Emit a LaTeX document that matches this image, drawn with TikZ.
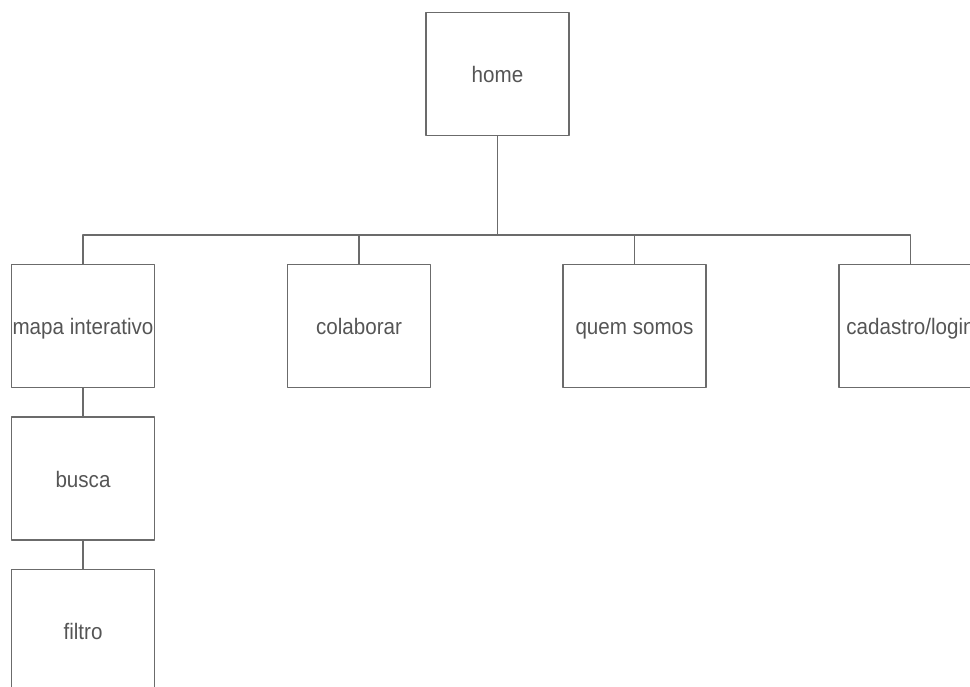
\documentclass[tikz,border=0pt]{standalone}
\usepackage{fontspec}
\setmainfont[FakeStretch=0.92]{Liberation Sans}
\definecolor{linegray}{HTML}{6B6B6B}
\definecolor{textgray}{HTML}{555555}
\tikzset{pagebox/.style={draw=linegray,line width=1.5pt,minimum width=143pt,minimum height=123pt,inner sep=0pt,text=textgray,text height=17pt,text depth=0pt,font=\fontsize{22.4}{24}\selectfont}}
\begin{document}
\begin{tikzpicture}[line cap=round,line join=round,x=1pt,y=-1pt]
				\useasboundingbox (0,0) rectangle (970,686);
				\clip (0,0) rectangle (970,686);
				\node[pagebox] (home) at (497.5,74) {home};
				\node[pagebox] (mapa) at (83,326) {mapa interativo};
				\node[pagebox] (colab) at (359,326) {colaborar};
				\node[pagebox] (quem) at (634.5,326) {quem somos};
				\node[pagebox] (cad) at (910.5,326) {cadastro/login};
				\node[pagebox] (busca) at (83,478.5) {busca};
				\node[pagebox] (filtro) at (83,631) {filtro};
				\coordinate (bus) at (497.5,235);
				\draw [linegray,line width=1.5pt] (home.south) -- (bus);
				\draw [linegray,line width=1.5pt] (mapa.north) |- (bus) -| (cad.north);
				\draw [linegray,line width=1.5pt] (colab.north) -- (colab.north |- bus);
				\draw [linegray,line width=1.5pt] (quem.north) -- (quem.north |- bus);
				\draw [linegray,line width=1.5pt] (mapa.south) -- (busca.north);
				\draw [linegray,line width=1.5pt] (busca.south) -- (filtro.north);
			\end{tikzpicture}
\end{document}
